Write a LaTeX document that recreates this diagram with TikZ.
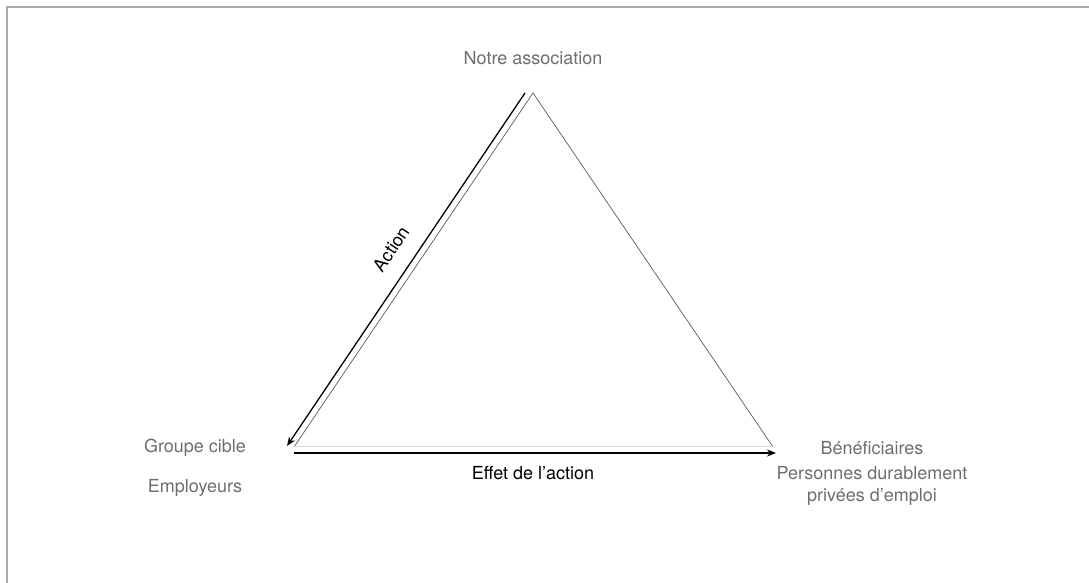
\documentclass[tikz,border=0pt]{standalone}
\usepackage{fontspec}
\setmainfont{TeX Gyre Heros}
\usetikzlibrary{arrows.meta}
\definecolor{txtgray}{HTML}{6E6E6E}
\definecolor{framegray}{HTML}{AAAAAA}
\begin{document}
\begin{tikzpicture}[x=1pt,y=1pt,
  lbl/.style={font=\fontsize{18}{22}\selectfont, text=txtgray, inner sep=0pt, align=center},
  blbl/.style={font=\fontsize{18}{22}\selectfont, text=black, inner sep=0pt},
  edge/.style={draw=black!65, line width=0.7pt},
  baseedge/.style={draw=black!15, line width=1pt},
  arr/.style={draw=black, line width=1.3pt, -{Stealth[length=9pt,width=7pt]}}
]
\useasboundingbox (0,0) rectangle (1089,583);
% frame (top and left edges visible)
\draw[framegray, line width=2pt] (7,0) -- (7,576) -- (1089,576);

% triangle corners
\coordinate (A) at (533,490);
\coordinate (B) at (294,136);
\coordinate (C) at (773,136);
\draw[edge] (B) -- (A) -- (C);
\draw[baseedge] (B) -- (C);

% arrows
\coordinate (acts) at (525,490);
\coordinate (acte) at (287,137);
\draw[arr] (acts) -- (acte);
\coordinate (effs) at (294,130);
\coordinate (effe) at (776,130);
\draw[arr] (effs) -- (effe);

% labels
\node[lbl, anchor=base] (notre) at (533,518) {Notre association};
\node[lbl, anchor=base] (groupe) at (195,130) {Groupe cible};
\node[lbl, anchor=base] (empl) at (195,90) {Employeurs};
\node[lbl, anchor=base] (benef) at (872,128) {Bénéficiaires};
\node[lbl, anchor=base] (pers) at (872,81) {Personnes durablement\\privées d’emploi};
\node[blbl, anchor=base] (effet) at (533,103) {Effet de l’action};
\node[blbl, rotate=56.1] (action) at (391,334) {Action};
\end{tikzpicture}
\end{document}
